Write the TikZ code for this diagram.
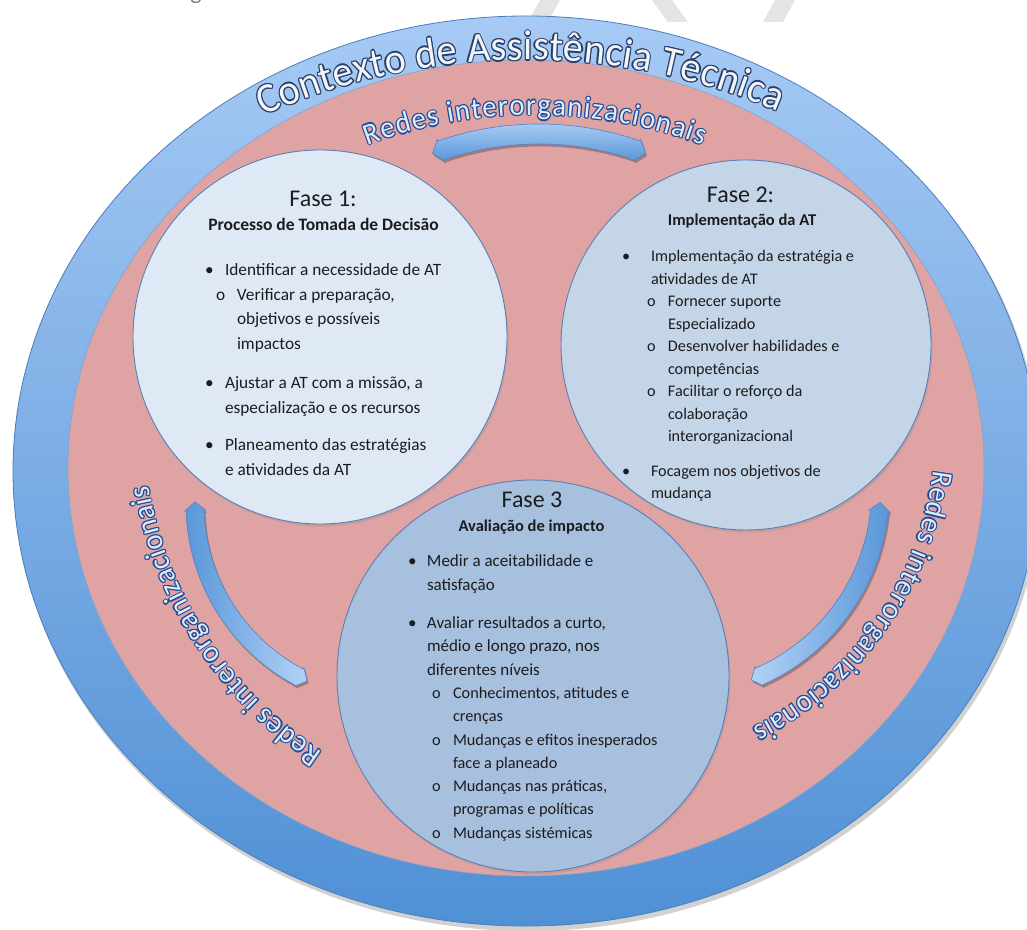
\documentclass[tikz,border=0pt]{standalone}
\usepackage{fontspec}
\setmainfont{Carlito}
\usetikzlibrary{decorations.text,decorations.pathmorphing,shadows,calc}

\definecolor{ringtop}{RGB}{166,202,244}
\definecolor{ringbot}{RGB}{80,144,213}
\definecolor{ringedge}{RGB}{74,126,190}
\definecolor{rose}{RGB}{223,163,163}
\definecolor{phaseA}{RGB}{223,233,245}
\definecolor{phaseB}{RGB}{196,213,232}
\definecolor{phaseC}{RGB}{167,192,222}
\definecolor{phaseedge}{RGB}{88,128,184}
\definecolor{ink}{RGB}{28,28,30}
\definecolor{navy}{RGB}{40,62,105}
\definecolor{netblue}{RGB}{30,76,150}
\definecolor{netfill}{RGB}{225,234,247}
\definecolor{ctxfill}{RGB}{242,246,251}
\definecolor{arrowlight}{RGB}{178,210,247}
\definecolor{arrowdark}{RGB}{88,150,216}
\definecolor{arrowedge}{RGB}{78,130,196}
\definecolor{pagegray}{RGB}{228,228,228}

\newfontfamily\wordart{Carlito}[FakeStretch=0.95]
\newcommand\ctxfont{\wordart\fontsize{42}{42}\selectfont}
\newcommand\netfont{\wordart\fontsize{30}{30}\selectfont}

% outlined text set along a circular arc:
% centre, radius, start angle, end angle, font, text, fill colour, outline colour, outline width
\newcommand\ArcLabel[9]{%
  \foreach \ox/\oy in {1/0,-1/0,0/1,0/-1,0.71/0.71,-0.71/0.71,0.71/-0.71,-0.71/-0.71}{%
    \path[shift={(#1)}, xshift={(\ox*#9)*1pt}, yshift={(\oy*#9)*1pt}, decorate,
      decoration={text along path, text={|#5|#6}, text color=#8, text align=fit to path}]
      (#3:#2) arc[start angle=#3, end angle=#4, radius=#2];
  }%
  \path[shift={(#1)}, decorate,
    decoration={text along path, text={|#5|#6}, text color=#7, text align=fit to path}]
    (#3:#2) arc[start angle=#3, end angle=#4, radius=#2];
}

% curved double arrow on a circle: centre, radius, from angle, to angle, half width, shading
\newcommand\BentArrow[6]{%
  \pgfmathsetmacro\arO{#2+#5}\pgfmathsetmacro\arI{#2-#5}%
  \pgfmathsetmacro\arBO{#2+#5+1.5}\pgfmathsetmacro\arBI{#2-#5-1.5}%
  \pgfmathsetmacro\arTA{#3-9/(#2)*180/pi}\pgfmathsetmacro\arTB{#4+9/(#2)*180/pi}%
  \fill[black, opacity=.25, shift={(#1)}, xshift=1.5pt, yshift=-2.5pt]
    (#3:\arO) arc[start angle=#3, end angle=#4, radius=\arO] -- (#4:\arBO) -- (\arTB:#2)
    -- (#4:\arBI) -- (#4:\arI) arc[start angle=#4, end angle=#3, radius=\arI]
    -- (#3:\arBI) -- (\arTA:#2) -- (#3:\arBO) -- cycle;
  \path[shift={(#1)}, #6, draw=arrowedge, line width=.6pt]
    (#3:\arO) arc[start angle=#3, end angle=#4, radius=\arO] -- (#4:\arBO) -- (\arTB:#2)
    -- (#4:\arBI) -- (#4:\arI) arc[start angle=#4, end angle=#3, radius=\arI]
    -- (#3:\arBI) -- (\arTA:#2) -- (#3:\arBO) -- cycle;
}

% list helpers
\newcommand\Ln[1]{\hbox{#1}}
\newcommand\Bu[1]{\makebox[#1][l]{•}}
\newcommand\Ci[2]{\hspace*{#1}\makebox[#2][l]{o}}
\newlength\wavestart
\newlength\wavelen

\tikzset{
  phase/.style={circle, draw=phaseedge, line width=.9pt,
    drop shadow={shadow xshift=1.5pt, shadow yshift=-2.5pt, opacity=.22}},
  phasetitle/.style={anchor=base, text=ink, font=\fontsize{24}{28}\selectfont},
  phasesub/.style={anchor=base, text=ink, font=\bfseries\fontsize{16.5}{20}\selectfont},
  phasebody/.style={anchor=base west, text=ink},
}

\begin{document}
\begin{tikzpicture}[x=1pt, y=1pt, every node/.style={inner sep=0pt, outer sep=0pt}]
\useasboundingbox (0,0) rectangle (1027,929);
\fill[white] (0,0) rectangle (1027,929);

% page remnants above the figure
\node[anchor=base, text=gray, font=\fontsize{24}{24}\selectfont] (cap) at (196,929.5) {g};
\fill[pagegray] (540,929) -- (560,929) -- (548,907) -- (528,907) -- cycle;
\fill[pagegray] (652,929) -- (672,929) -- (688,907) -- (668,907) -- cycle;
\fill[pagegray] (775,929) -- (795,929) -- (783,907) -- (763,907) -- cycle;

% centres of the arcs
\coordinate (ring) at (526,458);
\coordinate (inner) at (526,461);
\coordinate (ctx) at (526,224);
\coordinate (nettop) at (535,334);
\coordinate (netleft) at (542,510);
\coordinate (netright) at (599,501);
\coordinate (arrtop) at (539,494);
\coordinate (arrleft) at (391,425);
\coordinate (arrright) at (676.5,439);

% outer ring and inner field
\fill[black, opacity=.18] ([xshift=2pt, yshift=-4pt]ring) ellipse[x radius=514pt, y radius=456pt];
\path[draw=ringedge, line width=.8pt, top color=ringtop, bottom color=ringbot]
  (ring) ellipse[x radius=513pt, y radius=455pt];
\fill[rose, draw=ringedge!70, line width=.6pt] (inner) ellipse[x radius=458pt, y radius=408pt];

% curved titles
\ArcLabel{ctx}{645}{114}{67}{\ctxfont}{Contexto de Assistência Técnica}{ctxfill}{navy}{1.3}
\ArcLabel{nettop}{480}{110.4}{69.6}{\netfont}{Redes interorganizacionais}{netfill}{netblue}{1.2}
\ArcLabel{netleft}{399}{236.6}{189.6}{\netfont}{Redes interorganizacionais}{netfill}{netblue}{1.2}
\ArcLabel{netright}{337}{-7.2}{-62.9}{\netfont}{Redes interorganizacionais}{netfill}{netblue}{1.2}

% curved arrows between the phases
\BentArrow{arrtop}{301}{71}{109}{10}{top color=arrowlight, bottom color=arrowdark}
\BentArrow{arrleft}{196}{182}{242}{9}{left color=arrowdark, right color=arrowlight}
\BentArrow{arrright}{204}{-66}{-6}{9}{left color=arrowlight, right color=arrowdark}

% phases
\node[phase, fill=phaseA, minimum size=374pt] (c1) at (320,592) {};
\node[phase, fill=phaseB, minimum size=370pt] (c2) at (746,584) {};
\node[phase, fill=phaseC, minimum size=392pt] (c3) at (533,253) {};

% phase 1
\node[phasetitle] (f1) at (323,722) {Fase 1:};
\node[phasesub, font=\bfseries\fontsize{17.5}{20}\selectfont] (s1) at (323.5,698) {Processo de Tomada de Decisão};
\node[phasebody] (b1) at (205,653) {\vtop{\fontsize{17.3}{24.5}\selectfont
  \Ln{\Bu{20pt}Identificar a necessidade de AT}
  \Ln{\Ci{11pt}{21pt}Verificar a preparação,}
  \Ln{\hspace*{32pt}objetivos e possíveis}
  \Ln{\hspace*{32pt}impactos}
  \vskip 15pt
  \Ln{\Bu{20pt}Ajustar a AT com a missão, a}
  \Ln{\hspace*{20pt}especialização e os recursos}
  \vskip 13pt
  \Ln{\Bu{20pt}Planeamento das estratégias}
  \Ln{\hspace*{20pt}e atividades da AT}}};

% phase 2
\node[phasetitle] (f2) at (740.5,726) {Fase 2:};
\node[phasesub] (s2) at (742,703) {Implementação da AT};
\node[phasebody] (b2) at (622,667) {\vtop{\fontsize{16.2}{22.5}\selectfont
  \Ln{\Bu{29pt}Implementação da estratégia e}
  \Ln{\hspace*{29pt}atividades de AT}
  \Ln{\Ci{25pt}{21pt}Fornecer suporte}
  \Ln{\hspace*{46pt}Especializado}
  \Ln{\Ci{25pt}{21pt}Desenvolver habilidades e}
  \Ln{\hspace*{46pt}competências}
  \Ln{\Ci{25pt}{21pt}Facilitar o reforço da}
  \Ln{\hspace*{46pt}colaboração}
  \Ln{\hspace*{46pt}interorganizacional}
  \vskip 12pt
  \Ln{\Bu{29pt}Focagem nos objetivos de}
  \Ln{\hspace*{29pt}mudança}}};

% phase 3
\node[phasetitle] (f3) at (532,421) {Fase 3};
\node[phasesub] (s3) at (531.5,397) {Avaliação de impacto};
\node[phasebody] (b3) at (408,362) {\vtop{\fontsize{17}{23.3}\selectfont
  \Ln{\Bu{19pt}Medir a aceitabilidade e}
  \Ln{\hspace*{19pt}satisfação}
  \vskip 15pt
  \Ln{\Bu{19pt}Avaliar resultados a curto,}
  \Ln{\hspace*{19pt}médio e longo prazo, nos}
  \Ln{\hspace*{19pt}diferentes níveis}
  \fontsize{16.3}{23.3}\selectfont
  \Ln{\Ci{24pt}{21pt}Conhecimentos, atitudes e}
  \Ln{\hspace*{45pt}crenças}
  \Ln{\Ci{24pt}{21pt}Mudanças e efitos inesperados}
  \Ln{\hspace*{45pt}face a planeado}
  \Ln{\Ci{24pt}{21pt}Mudanças nas práticas,}
  \Ln{\hspace*{45pt}programas e políticas}
  \Ln{\Ci{24pt}{21pt}Mudanças sistémicas}}};

% spelling mark under "efitos"
\settowidth\wavestart{\fontsize{16.3}{23.3}\selectfont Mudanças e }
\settowidth\wavelen{\fontsize{16.3}{23.3}\selectfont efitos}
\coordinate (w1) at ($(b3.base west)+(45pt+\wavestart,-181.6pt)$);
\coordinate (w2) at ($(w1)+(\wavelen,0pt)$);
\draw[red!85!black, line width=.5pt, decorate,
  decoration={snake, amplitude=.7pt, segment length=2.6pt}] (w1) -- (w2);
\end{tikzpicture}
\end{document}
